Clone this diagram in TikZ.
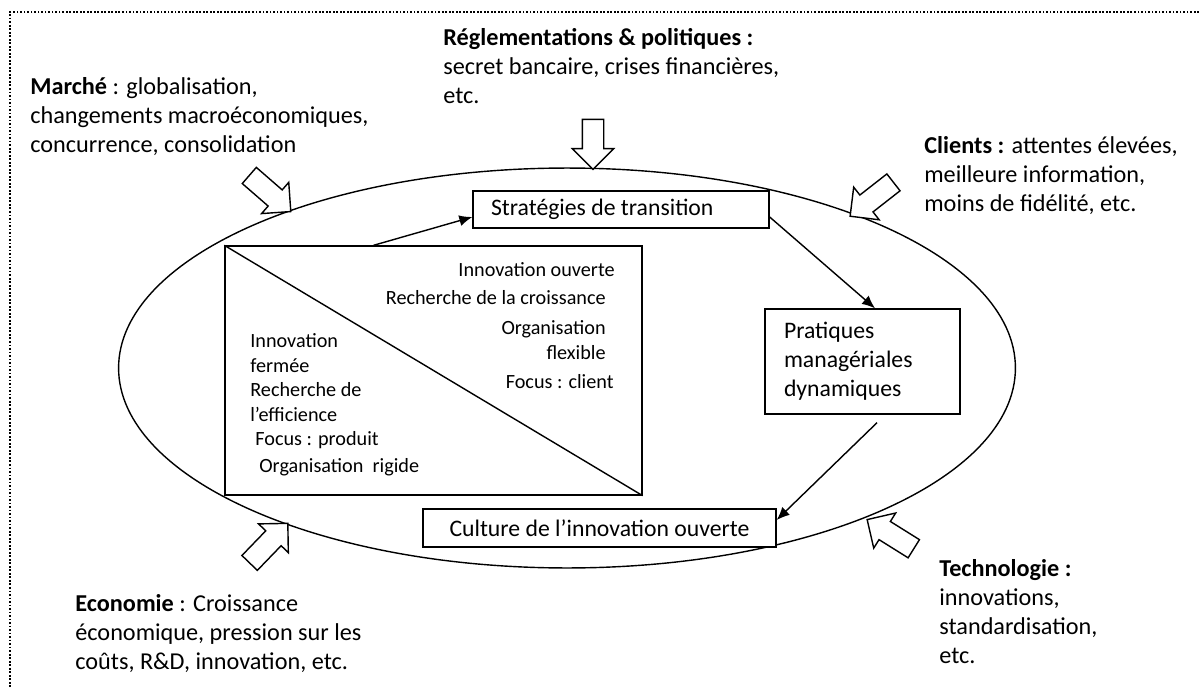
\documentclass[tikz,border=0pt]{standalone}
\usepackage{fontspec}
\setmainfont{Carlito}
\usepackage{tikz}
\usetikzlibrary{positioning}
\usetikzlibrary{shapes.geometric,shapes.arrows,arrows.meta}

\begin{document}
\begin{tikzpicture}[x=0.02cm,y=-0.02cm,
						outtext/.style={anchor=west, align=left, inner sep=0pt, font=\fontsize{13.8}{16.5}\selectfont},
						intext/.style={inner sep=0pt, font=\fontsize{11.5}{14}\selectfont},
						boxnode/.style={rectangle, draw=black, thick, fill=white, inner sep=0pt, font=\fontsize{13.5}{16.5}\selectfont},
						pusharrow/.style={single arrow, draw=black, thick, fill=white, minimum height=1.1cm, single arrow head extend=0.2cm, inner xsep=0pt, inner ysep=0.2cm},
						conn/.style={thick,-{Latex[length=2.6mm,width=2.2mm]}},
						]
						\useasboundingbox (0,0) rectangle (1199,689);
						%Frame
						\draw[densely dotted, line width=1pt] (1199,12) -- (10,12) -- (10,700);

						%Environment
						\node[ellipse, draw=black, line width=0.8pt, minimum width=17.94cm, minimum height=8cm, inner sep=0pt] (env) at (567,368) {};

						%Forces
						\node[outtext]      (marche) 	at 	(30,117)        {\textbf{Marché} : globalisation,\\changements macroéconomiques,\\concurrence, consolidation};
						\node[outtext]      (regl)   	at 	(443,66)        {\textbf{Réglementations \& politiques :}\\secret bancaire, crises financières,\\etc.};
						\node[outtext]      (clients)	at 	(924,176)       {\textbf{Clients :} attentes élevées,\\meilleure information,\\moins de fidélité, etc.};
						\node[outtext]      (eco)    	at 	(75,634)        {\textbf{Economie} : Croissance\\économique, pression sur les\\coûts, R\&D, innovation, etc.};
						\node[outtext]      (techno) 	at 	(939,612)       {\textbf{Technologie :}\\innovations,\\standardisation,\\etc.};

						\node[pusharrow, rotate=-90, minimum height=1cm]	(pregl)   	at 	(593,139)   {};
						\node[pusharrow, rotate=-41]  	(pmarche) 	at 	(266,190)   {};
						\node[pusharrow, rotate=-142] 	(pclients)	at 	(876,196)   {};
						\node[pusharrow, rotate=46]   	(peco)    	at 	(265,547)   {};
						\node[pusharrow, rotate=148]  	(ptechno) 	at 	(895,537)   {};

						%Boxes
						\node[boxnode, minimum width=8.34cm, minimum height=4.98cm]	(etat)  	at 	(433.5,370.5)   {};
						\node[boxnode, minimum width=5.76cm, minimum height=0.74cm, text width=5.2cm, align=flush left, inner xsep=0.36cm]	(strat) 	at 	(621,209.5)     {Stratégies de transition};
						\node[boxnode, minimum height=2.1cm, text width=3.14cm, inner xsep=0.38cm, align=flush left]	(prat)  	at 	(862.5,361.5)   {Pratiques\\managériales\\dynamiques};
						\node[boxnode, minimum width=7.06cm, minimum height=0.76cm]	(cult)  	at 	(599.5,528)     {Culture de l’innovation ouverte};

						\draw[thick] (etat.north west) -- (etat.south east);

						%Inside
						\node[intext, anchor=east]            	(ouverte)	at 	(615,270)   {Innovation ouverte};
						\node[intext, anchor=east]            	(croiss) 	at 	(606,298)   {Recherche de la croissance};
						\node[intext, anchor=east, align=right]	(flex)   	at 	(606,340)   {Organisation\\flexible};
						\node[intext, anchor=east]            	(client) 	at 	(614,382)   {Focus : client};
						\node[intext, anchor=west, align=left]	(fermee) 	at 	(250,353)   {Innovation\\fermée};
						\node[intext, anchor=west, align=left]	(effic)  	at 	(250,402)   {Recherche de\\l’efficience};
						\node[intext, anchor=west]            	(produit)	at 	(255,440)   {Focus : produit};
						\node[intext, anchor=west]            	(rigide) 	at 	(259,467)   {Organisation~ rigide};

						%Lines
						\draw[conn] ([xshift=-1.2cm]etat.north) -- ([yshift=-0.15cm]strat.west);
						\draw[conn] ([yshift=-0.15cm]strat.east) -- ([xshift=0.25cm]prat.north);
						\draw[conn] ([xshift=0.29cm,yshift=-0.16cm]prat.south) -- ([yshift=0.16cm]cult.east);
					\end{tikzpicture}
\end{document}
